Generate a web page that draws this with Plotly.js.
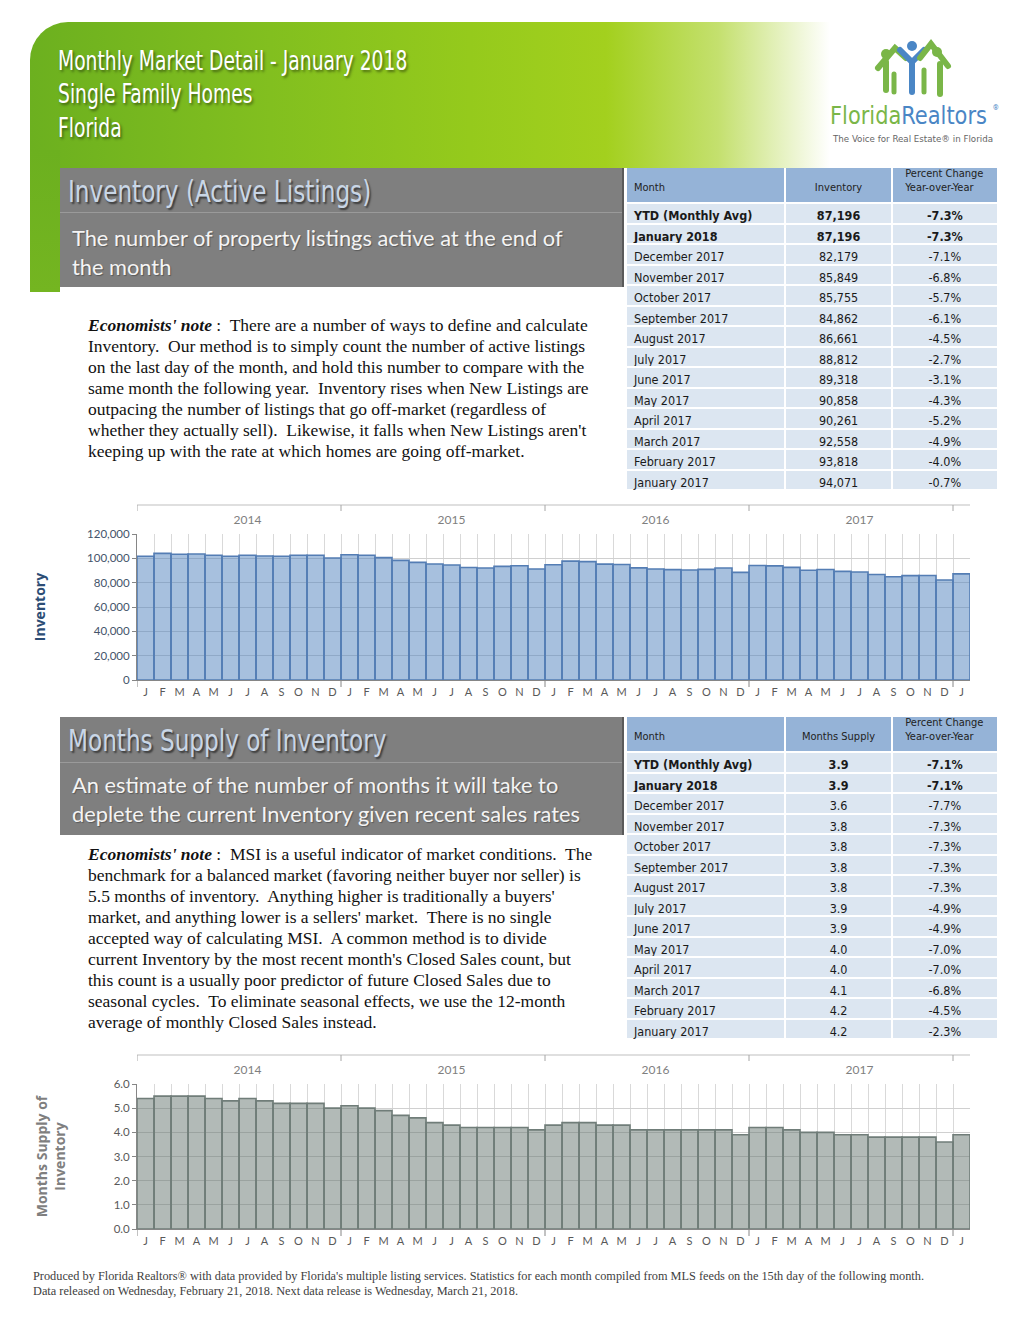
<!DOCTYPE html>
<html>
<head>
<meta charset="utf-8">
<script src="https://cdn.plot.ly/plotly-3.0.1.min.js"></script>
<style>
  html,body{margin:0;padding:0;background:#fff;}
  #page{position:relative;width:1024px;height:1326px;overflow:hidden;background:#fff;font-family:Lato,"Open Sans",sans-serif;}
  .abs{position:absolute;}
  .narrow{font-family:"Liberation Sans Narrow","DejaVu Sans Condensed","Roboto Condensed",Roboto,sans-serif;transform-origin:0 0;}
  #banner{left:30px;top:22px;width:800px;height:146px;border-top-left-radius:38px;
    background:linear-gradient(90deg,#6cb01f 0%,#82bf1f 30%,#95ca1c 55%,#a3d01e 72%,#c4e06e 86%,#ffffff 100%);}
  #bannerstrip{left:30px;top:150px;width:30px;height:142px;background:linear-gradient(180deg,#6cb01f,#74b521);}
  .btitle{color:#fff;font-size:26px;line-height:34px;text-shadow:2px 2px 3px rgba(0,0,0,0.45);white-space:nowrap;transform:scaleX(0.80);}
  .secbox{background:#7f7f7f;border-right:2px solid #5a5a5a;}
  .sectitle{color:#c9d6e6;font-size:31px;white-space:nowrap;text-shadow:2px 2px 2px rgba(0,0,0,0.55);transform:scaleX(0.83);}
  .secdesc{color:#f4f4f4;font-size:21.8px;line-height:29px;white-space:nowrap;text-shadow:1px 1px 1px rgba(0,0,0,0.3);}
  .note{font-family:"Liberation Serif","DejaVu Serif",serif;font-size:17.5px;line-height:21px;color:#111;white-space:nowrap;}
  .footer{font-family:"Liberation Serif",serif;font-size:12.3px;line-height:15px;color:#404040;white-space:nowrap;}
  .tablewrap{overflow:hidden;background:#fff;}
  .tablewrap > div{position:absolute;left:0;top:-9px;}
</style>
</head>
<body>
<div id="page">
  <div id="banner" class="abs"></div>
  <div id="bannerstrip" class="abs"></div>
  <div class="abs narrow btitle" style="left:58px;top:44px;">Monthly Market Detail - January 2018</div>
  <div class="abs narrow btitle" style="left:58px;top:77px;">Single Family Homes</div>
  <div class="abs narrow btitle" style="left:58px;top:111px;">Florida</div>

  <svg class="abs" style="left:820px;top:30px;" width="195" height="125" viewBox="0 0 195 125">
    <g stroke-linecap="round" fill="none">
      <circle cx="66" cy="24" r="5" fill="#7ab648" stroke="none"/>
      <path d="M58 38 L75 18 L86 28" stroke="#7ab648" stroke-width="6"/>
      <path d="M66 32 L66 60" stroke="#7ab648" stroke-width="6"/>
      <path d="M74 44 L74 62" stroke="#7ab648" stroke-width="5"/>
      <circle cx="92" cy="16" r="5" fill="#4a86c5" stroke="none"/>
      <path d="M80 20 L92 32 L104 20" stroke="#4a86c5" stroke-width="6"/>
      <path d="M92 32 L92 62" stroke="#4a86c5" stroke-width="6"/>
      <circle cx="117" cy="22" r="5" fill="#7ab648" stroke="none"/>
      <path d="M100 28 L111 14 L128 36" stroke="#7ab648" stroke-width="6"/>
      <path d="M104 40 L104 62" stroke="#7ab648" stroke-width="5"/>
      <path d="M120 34 L120 64" stroke="#7ab648" stroke-width="6"/>
    </g>
    <text x="10" y="94" textLength="157" lengthAdjust="spacingAndGlyphs" font-family="'Liberation Sans Narrow','DejaVu Sans Condensed',Roboto,sans-serif" font-size="24" fill="#7ab648">Florida<tspan fill="#4a86c5">Realtors</tspan></text>
    <text x="173" y="80" font-family="Roboto,sans-serif" font-size="7" fill="#4a86c5">®</text>
    <text x="13" y="112" textLength="160" lengthAdjust="spacingAndGlyphs" font-family="'Liberation Sans Narrow','DejaVu Sans Condensed',Roboto,sans-serif" font-size="9" fill="#666">The Voice for Real Estate® in Florida</text>
  </svg>

  <!-- Section 1 -->
  <div class="abs secbox" style="left:60px;top:168px;width:562px;height:119px;"></div>
  <div class="abs" style="left:60px;top:212px;width:562px;height:1px;background:#9a9a9a;"></div>
  <div class="abs narrow sectitle" style="left:68px;top:173px;">Inventory (Active Listings)</div>
  <div class="abs secdesc" style="left:72px;top:223px;">The number of property listings active at the end of<br>the month</div>
  <div class="abs note" style="left:88px;top:315px;">
    <b><i>Economists' note</i></b> :&nbsp; There are a number of ways to define and calculate<br>
    Inventory.&nbsp; Our method is to simply count the number of active listings<br>
    on the last day of the month, and hold this number to compare with the<br>
    same month the following year.&nbsp; Inventory rises when New Listings are<br>
    outpacing the number of listings that go off-market (regardless of<br>
    whether they actually sell).&nbsp; Likewise, it falls when New Listings aren't<br>
    keeping up with the rate at which homes are going off-market.
  </div>
  <div class="abs tablewrap" style="left:624px;top:168px;width:376px;height:326px;"><div id="table1"></div></div>
  <div id="chart1" class="abs" style="left:0px;top:495px;width:1024px;height:215px;"></div>

  <!-- Section 2 -->
  <div class="abs secbox" style="left:60px;top:717px;width:562px;height:118px;"></div>
  <div class="abs" style="left:60px;top:762px;width:562px;height:1px;background:#9a9a9a;"></div>
  <div class="abs narrow sectitle" style="left:68px;top:722px;">Months Supply of Inventory</div>
  <div class="abs secdesc" style="left:72px;top:770px;">An estimate of the number of months it will take to<br>deplete the current Inventory given recent sales rates</div>
  <div class="abs note" style="left:88px;top:844px;">
    <b><i>Economists' note</i></b> :&nbsp; MSI is a useful indicator of market conditions.&nbsp; The<br>
    benchmark for a balanced market (favoring neither buyer nor seller) is<br>
    5.5 months of inventory.&nbsp; Anything higher is traditionally a buyers'<br>
    market, and anything lower is a sellers' market.&nbsp; There is no single<br>
    accepted way of calculating MSI.&nbsp; A common method is to divide<br>
    current Inventory by the most recent month's Closed Sales count, but<br>
    this count is a usually poor predictor of future Closed Sales due to<br>
    seasonal cycles.&nbsp; To eliminate seasonal effects, we use the 12-month<br>
    average of monthly Closed Sales instead.
  </div>
  <div class="abs tablewrap" style="left:624px;top:717px;width:376px;height:326px;"><div id="table2"></div></div>
  <div id="chart2" class="abs" style="left:0px;top:1045px;width:1024px;height:214px;"></div>

  <div class="abs footer" style="left:33px;top:1269px;">Produced by Florida Realtors® with data provided by Florida's multiple listing services. Statistics for each month compiled from MLS feeds on the 15th day of the following month.<br>Data released on Wednesday, February 21, 2018. Next data release is Wednesday, March 21, 2018.</div>
</div>

<script>
// ---------------- DATA ----------------
const monthLetters = ['J','F','M','A','M','J','J','A','S','O','N','D',
                      'J','F','M','A','M','J','J','A','S','O','N','D',
                      'J','F','M','A','M','J','J','A','S','O','N','D',
                      'J','F','M','A','M','J','J','A','S','O','N','D',
                      'J'];
const yearLabels = ['2014','2015','2016','2017'];
const yearLabelIndex = [6, 18, 30, 42];
const yearBoundaryIndex = [-0.5, 11.5, 23.5, 35.5, 47.5];

const inventoryValues = [
  101700,104100,103300,103600,102500,101700,102500,101900,101700,102500,102500,100300,
  103000,102500,100600, 98300, 96700, 95300, 94500, 92500, 92000, 93400, 93900, 91200,
   94733, 97727, 97327, 95212, 94940, 92175, 91277, 90744, 90375, 90938, 92113, 88460,
   94071, 93818, 92558, 90261, 90858, 89318, 88812, 86661, 84862, 85755, 85849, 82179,
   87196];
const monthsSupplyValues = [
  5.4,5.5,5.5,5.5,5.4,5.3,5.4,5.3,5.2,5.2,5.2,5.0,
  5.1,5.0,4.9,4.7,4.6,4.4,4.3,4.2,4.2,4.2,4.2,4.1,
  4.3,4.4,4.4,4.3,4.3,4.1,4.1,4.1,4.1,4.1,4.1,3.9,
  4.2,4.2,4.1,4.0,4.0,3.9,3.9,3.8,3.8,3.8,3.8,3.6,
  3.9];

const tableMonths = ['YTD (Monthly Avg)','January 2018','December 2017','November 2017','October 2017',
  'September 2017','August 2017','July 2017','June 2017','May 2017','April 2017','March 2017','February 2017','January 2017'];
const tableInventory = ['87,196','87,196','82,179','85,849','85,755','84,862','86,661','88,812',
  '89,318','90,858','90,261','92,558','93,818','94,071'];
const tableInventoryChange = ['-7.3%','-7.3%','-7.1%','-6.8%','-5.7%','-6.1%','-4.5%','-2.7%',
  '-3.1%','-4.3%','-5.2%','-4.9%','-4.0%','-0.7%'];
const tableMonthsSupply = ['3.9','3.9','3.6','3.8','3.8','3.8','3.8','3.9','3.9','4.0','4.0','4.1','4.2','4.2'];
const tableMonthsSupplyChange = ['-7.1%','-7.1%','-7.7%','-7.3%','-7.3%','-7.3%','-7.3%','-4.9%',
  '-4.9%','-7.0%','-7.0%','-6.8%','-4.5%','-2.3%'];
const boldRows = 2;

// ---------------- TABLES ----------------
const narrowFont = '"Liberation Sans Narrow","DejaVu Sans Condensed","Roboto Condensed",Roboto,sans-serif';
function drawTable(id, header2, col2, col3) {
  const rowWeights = tableMonths.map((_, r) => (r < boldRows ? 700 : 400));
  const trace = {
    type: 'table',
    columnwidth: [156, 104, 104],
    header: {
      values: ['&nbsp;<br>Month', '&nbsp;<br>' + header2, 'Percent Change<br>Year-over-Year'],
      align: ['left', 'center', 'center'],
      fill: {color: '#95b3d7'},
      line: {color: '#ffffff', width: 2},
      font: {family: narrowFont, size: 11, color: '#222'},
      height: 44
    },
    cells: {
      values: [tableMonths, col2, col3],
      align: ['left', 'center', 'center'],
      fill: {color: '#dce6f1'},
      line: {color: '#ffffff', width: 2},
      font: {family: narrowFont, size: 12.5, color: '#1a1a1a', weight: [rowWeights, rowWeights, rowWeights]},
      height: 20.5
    }
  };
  Plotly.newPlot(id, [trace], {
    width: 376, height: 340, margin: {l: 2, r: 2, t: 0, b: 0},
    paper_bgcolor: '#fff', showlegend: false
  }, {staticPlot: true, displayModeBar: false});
}
drawTable('table1', 'Inventory', tableInventory, tableInventoryChange);
drawTable('table2', 'Months Supply', tableMonthsSupply, tableMonthsSupplyChange);

// ---------------- CHARTS ----------------
const xIdx = monthLetters.map((_, i) => i);
function drawChart(id, values, opts) {
  const plotH = opts.height - 39 - 30;
  const topLineY = 1 + 29 / plotH;
  const shapes = [];
  shapes.push({type: 'line', xref: 'x', yref: 'paper', x0: -0.5, x1: 48.5, y0: topLineY, y1: topLineY,
               line: {color: '#bfbfbf', width: 1}});
  yearBoundaryIndex.forEach(b => {
    shapes.push({type: 'line', xref: 'x', yref: 'paper', x0: b, x1: b, y0: topLineY, y1: topLineY - 6 / plotH,
                 line: {color: '#a6a6a6', width: 1}});
    shapes.push({type: 'line', xref: 'x', yref: 'paper', x0: b, x1: b, y0: 0, y1: -7 / plotH,
                 line: {color: '#868686', width: 1}});
  });
  const data = [
    {type: 'bar', x: xIdx, y: values, width: 1,
     marker: {color: opts.fill, line: {color: opts.edge, width: 1.6}},
     hoverinfo: 'skip'},
    {type: 'scatter', x: yearLabelIndex, y: yearLabelIndex.map(() => null), xaxis: 'x2', showlegend: false, hoverinfo: 'skip'}
  ];
  const layout = {
    width: 1024, height: opts.height,
    margin: {l: 137, r: 54, t: 39, b: 30},
    paper_bgcolor: 'rgba(0,0,0,0)', plot_bgcolor: 'rgba(0,0,0,0)',
    showlegend: false, bargap: 0,
    font: {family: 'Lato, "Open Sans", sans-serif'},
    xaxis: {
      range: [-0.5, 48.5], tickmode: 'array', tickvals: xIdx, ticktext: monthLetters,
      showgrid: false, zeroline: false, showline: true, linecolor: '#868686', linewidth: 1,
      ticks: '', tickfont: {size: 11, color: '#595959'}, ticklabelstandoff: 2,
      minor: {tickmode: 'linear', tick0: -0.5, dtick: 1, showgrid: true, gridcolor: '#d9d9d9', gridwidth: 1, ticks: ''}
    },
    xaxis2: {
      overlaying: 'x', side: 'top', range: [-0.5, 48.5], tickmode: 'array',
      tickvals: yearLabelIndex, ticktext: yearLabels, showgrid: false, zeroline: false,
      showline: false, ticks: '', tickfont: {size: 12, color: '#7f7f7f'}, ticklabelstandoff: 7
    },
    yaxis: {
      range: opts.range, dtick: opts.dtick, tickformat: opts.tickformat,
      showgrid: true, gridcolor: '#d0d0d0', gridwidth: 1, zeroline: false,
      showline: true, linecolor: '#868686', ticks: 'outside', ticklen: 4, tickcolor: '#868686',
      tickfont: {size: 11.5, color: opts.tickColor},
      title: {text: opts.title, standoff: opts.standoff,
              font: {size: 14, color: opts.titleColor, family: '"Open Sans", Lato, sans-serif', weight: 'bold'}}
    },
    shapes: shapes
  };
  Plotly.newPlot(id, data, layout, {staticPlot: true, displayModeBar: false});
}

drawChart('chart1', inventoryValues, {
  height: 215, range: [0, 120000], dtick: 20000, tickformat: ',d',
  fill: 'rgba(79,129,189,0.5)', edge: 'rgb(84,125,180)',
  tickColor: '#44546a', title: 'Inventory', titleColor: '#2c4d75', standoff: 38
});
drawChart('chart2', monthsSupplyValues, {
  height: 214, range: [0, 6], dtick: 1, tickformat: '.1f',
  fill: 'rgba(101,117,111,0.5)', edge: 'rgb(112,125,121)',
  tickColor: '#595959', title: 'Months Supply of<br>Inventory', titleColor: '#7f7f7f', standoff: 44
});
</script>
</body>
</html>
